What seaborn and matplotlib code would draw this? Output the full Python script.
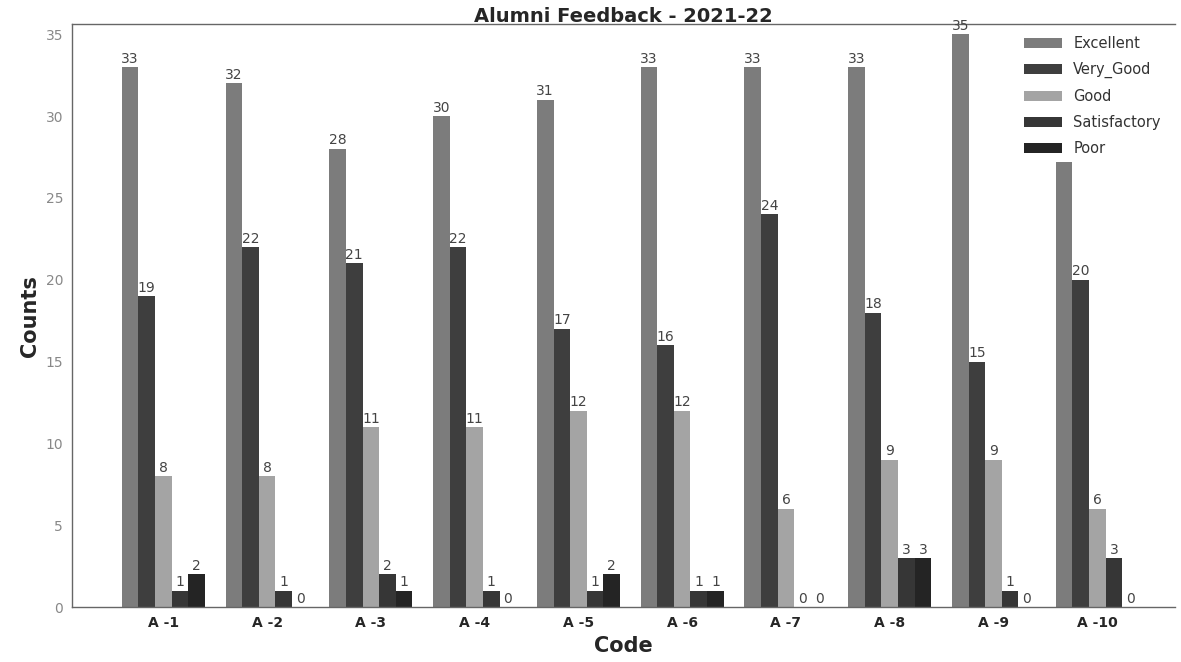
import matplotlib
matplotlib.use("Agg")
import matplotlib.pyplot as plt
import seaborn as sns
import pandas as pd

codes = ["A -1", "A -2", "A -3", "A -4", "A -5", "A -6", "A -7", "A -8", "A -9", "A -10"]
categories = ["Excellent", "Very_Good", "Good", "Satisfactory", "Poor"]
excellent = [33, 32, 28, 30, 31, 33, 33, 33, 35, 33]
very_good = [19, 22, 21, 22, 17, 16, 24, 18, 15, 20]
good = [8, 8, 11, 11, 12, 12, 6, 9, 9, 6]
satisfactory = [1, 1, 2, 1, 1, 1, 0, 3, 1, 3]
poor = [2, 0, 1, 0, 2, 1, 0, 3, 0, 0]

series = [excellent, very_good, good, satisfactory, poor]
rows = []
for cat, vals in zip(categories, series):
    for c, v in zip(codes, vals):
        rows.append({"Code": c, "Rating": cat, "Counts": v})
df = pd.DataFrame(rows)

sns.set_style("white")
plt.rcParams['font.family'] = ['DejaVu Sans']

colors = ["#7c7c7c", "#3e3e3e", "#a4a4a4", "#363636", "#242424"]

fig = plt.figure(figsize=(11.81, 6.62), dpi=100)
ax = fig.add_axes([0.061, 0.083, 0.934, 0.880])
sns.barplot(data=df, x="Code", y="Counts", hue="Rating", hue_order=categories,
            order=codes, palette=colors, ax=ax, width=0.8, saturation=1,
            linewidth=0)

for cont in ax.containers:
    ax.bar_label(cont, fontsize=10, color="#444444", padding=1)

ax.set_ylim(0, 35.6)
ax.set_xlim(-0.88, 9.75)
ax.set_yticks([0, 5, 10, 15, 20, 25, 30, 35])
ax.tick_params(axis="y", labelsize=10, labelcolor="#888888", length=3, color="#999999")
ax.tick_params(axis="x", labelsize=10, length=3, color="#999999")
for lbl in ax.get_xticklabels():
    lbl.set_fontweight("bold")
ax.set_xlabel("Code", fontsize=15, fontweight="bold")
ax.set_ylabel("Counts", fontsize=15, fontweight="bold")
ax.set_title("Alumni Feedback - 2021-22", fontsize=14, fontweight="bold", pad=2)

for s in ["left", "bottom", "top"]:
    ax.spines[s].set_color("#666666")
    ax.spines[s].set_linewidth(1)
ax.spines["right"].set_visible(False)

leg = ax.legend(loc="upper right", frameon=True, fontsize=10.5, handlelength=2.6,
                labelspacing=0.75, bbox_to_anchor=(0.995, 0.995), borderaxespad=0.2,
                facecolor="white", edgecolor="none", framealpha=1.0)
leg.set_zorder(10)
for t in leg.get_texts():
    t.set_color("#333333")

fig.savefig("out.png", dpi=100)
